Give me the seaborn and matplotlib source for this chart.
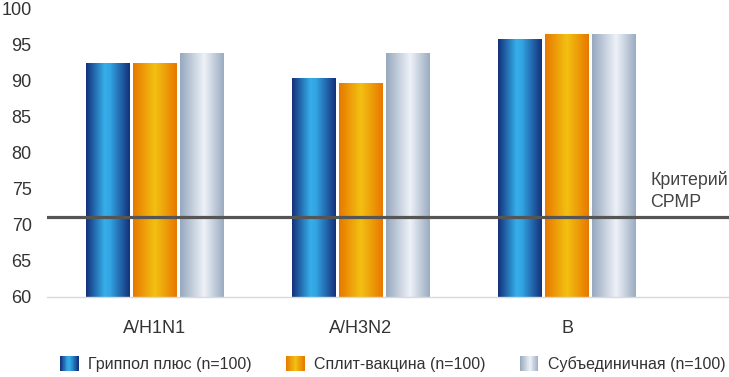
import numpy as np
import pandas as pd
import seaborn as sns
import matplotlib
matplotlib.use("Agg")
import matplotlib.pyplot as plt
from matplotlib.colors import LinearSegmentedColormap
from matplotlib.patches import Patch, Rectangle
from matplotlib.legend_handler import HandlerBase

# data
strains = ["A/H1N1", "A/H3N2", "B"]
vaccines = ["Гриппол плюс (n=100)", "Сплит-вакцина (n=100)", "Субъединичная (n=100)"]
grippol = [92.4, 90.3, 95.7]
split = [92.4, 89.6, 96.5]
subunit = [93.8, 93.8, 96.5]
criterion = 71.1
y_ticks = [60, 65, 70, 75, 80, 85, 90, 95, 100]
y_min, y_max = 60, 100

# cylinder-like gradients for each series
gradients = [
    LinearSegmentedColormap.from_list("blue", [(0, "#14307a"), (0.42, "#36aeea"), (0.55, "#32a4e2"), (1, "#14307a")]),
    LinearSegmentedColormap.from_list("orange", [(0, "#e87800"), (0.5, "#f2c112"), (1, "#e87800")]),
    LinearSegmentedColormap.from_list("silver", [(0, "#97a8be"), (0.55, "#eef2f8"), (1, "#9aabc1")]),
]

df = pd.DataFrame({
    "strain": strains * 3,
    "vaccine": [vaccines[0]] * 3 + [vaccines[1]] * 3 + [vaccines[2]] * 3,
    "value": grippol + split + subunit,
})

sns.set_theme(style="white")
plt.rcParams["font.family"] = ["Liberation Sans", "DejaVu Sans"]

fig = plt.figure(figsize=(7.29, 3.77), dpi=100)
ax = fig.add_axes([0.0645, 0.2135, 0.9355, 0.764])

sns.barplot(data=df, x="strain", y="value", hue="vaccine", hue_order=vaccines,
            palette=["#2a7cc4", "#f0a000", "#c8d2e0"], width=0.684, gap=0.064,
            legend=False, ax=ax)

# replace flat fills with horizontal gradients over each bar
grad = np.linspace(0, 1, 256).reshape(1, -1)
for cont, cmap in zip(ax.containers, gradients):
    for bar in cont:
        x0, w = bar.get_x(), bar.get_width()
        top = bar.get_y() + bar.get_height()
        ax.imshow(grad, cmap=cmap, extent=[x0, x0 + w, y_min, top],
                  aspect="auto", zorder=2, interpolation="bicubic")
        bar.set_facecolor("none")
        bar.set_edgecolor("none")

ax.axhline(criterion, color="#555555", lw=2.3, zorder=4)
ax.text(0.885, criterion + 0.8, "Критерий\nСРМР", transform=ax.get_yaxis_transform(),
        ha="left", va="bottom", fontsize=12.8, color="#444444", linespacing=1.4)

ax.set_xlim(-0.524, 2.786)
ax.set_ylim(y_min, y_max)
ax.set_yticks(y_ticks)
ax.set_xlabel("")
ax.set_ylabel("")
ax.tick_params(axis="y", length=0, pad=11, labelsize=13, labelcolor="#333333")
ax.tick_params(axis="x", length=0, pad=17, labelsize=13, labelcolor="#333333")
for s in ["top", "right", "left"]:
    ax.spines[s].set_visible(False)
ax.spines["bottom"].set_color("#d9d9d9")
ax.spines["bottom"].set_linewidth(1)
ax.spines["bottom"].set_zorder(5)


class GradHandler(HandlerBase):
    def __init__(self, cmap):
        super().__init__()
        self.cmap = cmap

    def create_artists(self, legend, orig_handle, xdescent, ydescent, width, height, fontsize, trans):
        n = 30
        arts = []
        for i in range(n):
            arts.append(Rectangle((-xdescent + width * i / n, -ydescent), width / n * 1.1, height,
                                  facecolor=self.cmap((i + 0.5) / n), edgecolor="none", transform=trans))
        return arts


handles = [Patch(label=v) for v in vaccines]
fig.legend(handles=handles, labels=vaccines, loc="center", bbox_to_anchor=(0.539, 0.035),
           ncol=3, frameon=False, fontsize=11.5, labelcolor="#333333",
           handlelength=1.15, handleheight=1.15, handletextpad=0.6, columnspacing=2.15,
           handler_map={h: GradHandler(c) for h, c in zip(handles, gradients)})

fig.savefig("out.png", dpi=100)
